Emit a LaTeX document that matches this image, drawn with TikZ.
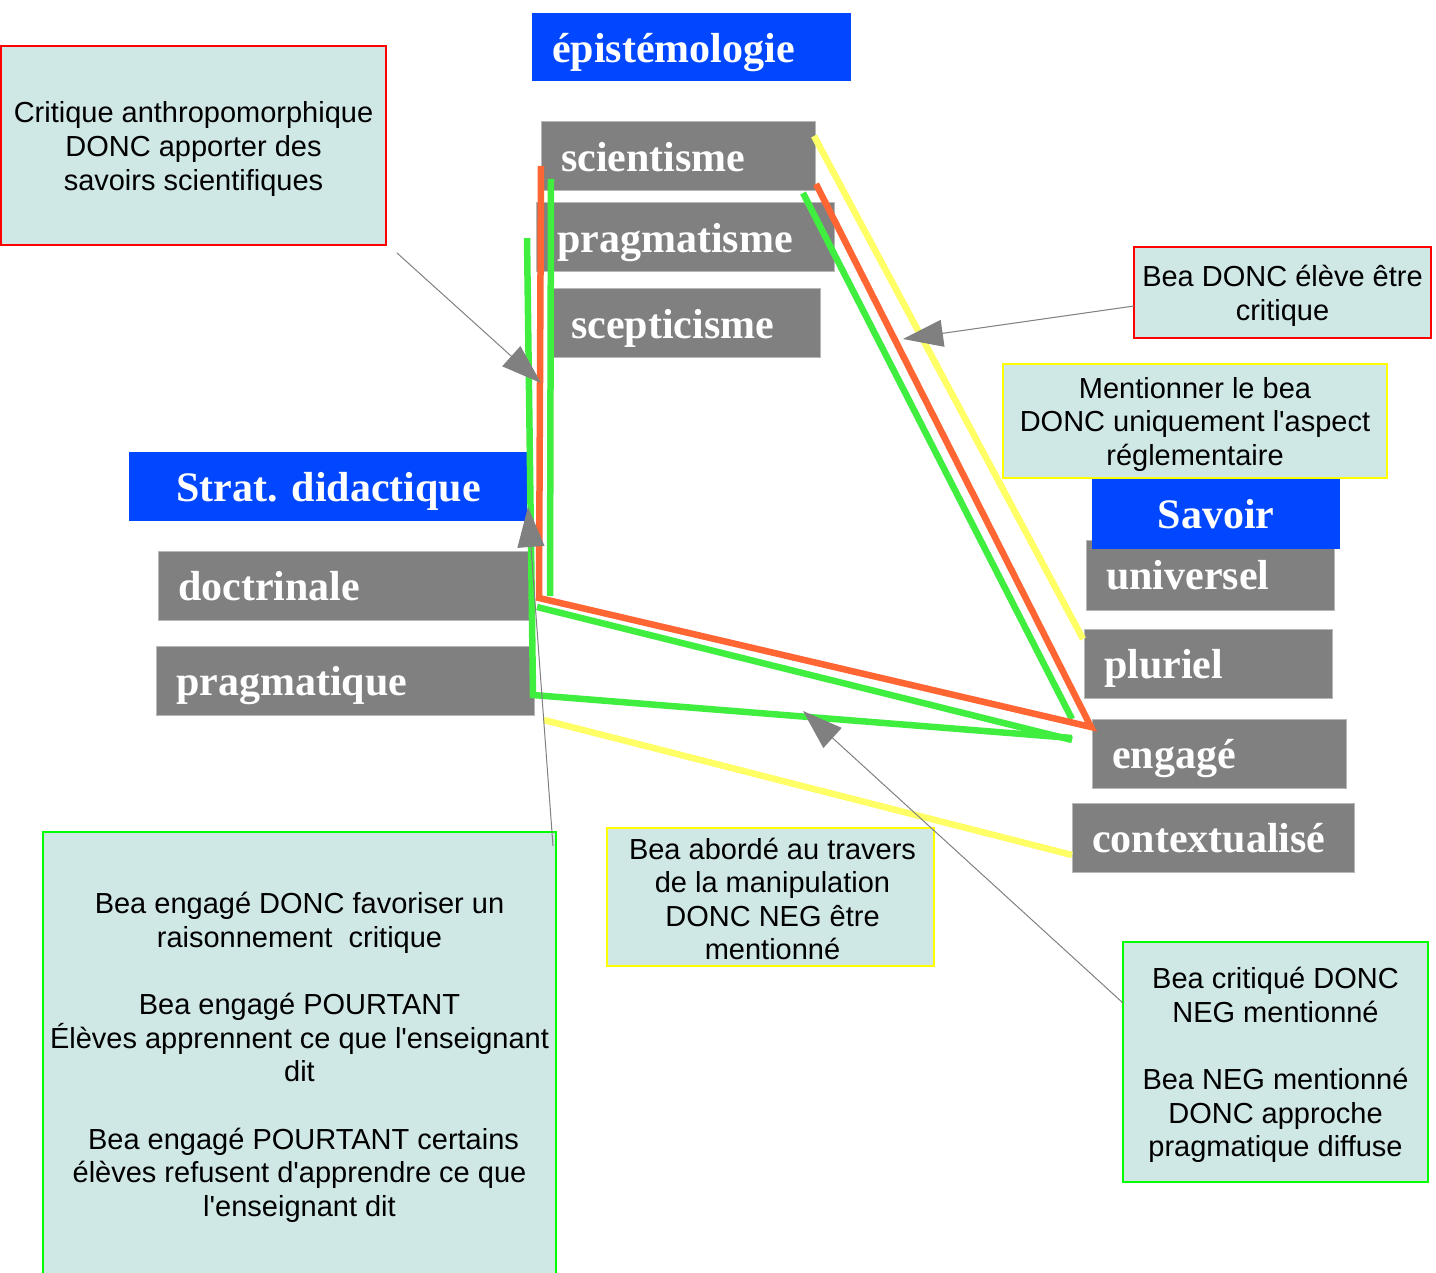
\documentclass[tikz,border=0pt]{standalone}
\usepackage{fontspec}
\setmainfont{Liberation Sans}[Ligatures=TeXOff]
\newfontfamily\lblfont{Liberation Serif}
\usetikzlibrary{arrows.meta}
\definecolor{bblue}{RGB}{0,71,255}
\definecolor{bgray}{RGB}{128,128,128}
\definecolor{bteal}{RGB}{207,231,229}
\definecolor{lorange}{RGB}{255,102,51}
\definecolor{lgreen}{RGB}{64,238,64}
\definecolor{lyellow}{RGB}{255,255,102}
\definecolor{bred}{RGB}{255,0,0}
\definecolor{byellow}{RGB}{255,255,0}
\definecolor{bgreen}{RGB}{0,255,0}
\tikzset{
  bluebox/.style={fill=bblue, draw=none, anchor=north west, inner sep=0pt, outer sep=0pt},
  graybox/.style={fill=bgray, draw=black!28, line width=1pt, anchor=north west, inner sep=0pt, outer sep=0pt},
  lbl/.style={anchor=base west, inner sep=0pt, text=white, font=\lblfont\bfseries\fontsize{42}{48}\selectfont},
  tbox/.style={fill=bteal, line width=2pt, anchor=north west, inner sep=0pt, outer sep=0pt},
  ttext/.style={inner sep=0pt, align=center, font=\fontsize{29}{33.6}\selectfont},
  cline/.style={line width=6.5pt},
  ptr/.style={draw=bgray, line width=1pt, -{Triangle[length=40pt,width=27pt]}}
}
\begin{document}
\begin{tikzpicture}[x=1pt,y=-1pt]
\useasboundingbox (0,0) rectangle (1436,1273);
% epistemologie column
\node[bluebox, minimum width=319pt, minimum height=68pt] (epi) at (532,13) {};
\node[lbl] at ([shift={(20,49.5)}]epi.north west) {épistémologie};
\node[graybox, minimum width=274pt, minimum height=69pt] (sci) at (541,122) {};
\node[lbl] at ([shift={(20,49.5)}]sci.north west) {scientisme};
\node[graybox, minimum width=298pt, minimum height=69pt] (pra) at (536,203) {};
\node[lbl] at ([shift={(21,49.5)}]pra.north west) {pragmatisme};
\node[graybox, minimum width=269pt, minimum height=69pt] (sce) at (551,289) {};
\node[lbl] at ([shift={(20,49.5)}]sce.north west) {scepticisme};
% strategie column
\node[bluebox, minimum width=398pt, minimum height=69pt] (strat) at (129,452) {};
\node[lbl] at ([shift={(47,49.5)}]strat.north west) {Strat. didactique};
\node[graybox, minimum width=371pt, minimum height=69pt] (doc) at (158,551) {};
\node[lbl] at ([shift={(20,49.5)}]doc.north west) {doctrinale};
\node[graybox, minimum width=378pt, minimum height=69pt] (prq) at (156,646) {};
\node[lbl] at ([shift={(20,49.5)}]prq.north west) {pragmatique};
% savoir column
\node[graybox, minimum width=248pt, minimum height=70pt] (uni) at (1086,540) {};
\node[lbl] at ([shift={(20,49.5)}]uni.north west) {universel};
\node[bluebox, minimum width=248pt, minimum height=70pt] (sav) at (1092,479) {};
\node[lbl, anchor=base] at ([shift={(124,49.5)}]sav.north west) {Savoir};
\node[graybox, minimum width=248pt, minimum height=69pt] (plu) at (1084,629) {};
\node[lbl] at ([shift={(20,49.5)}]plu.north west) {pluriel};
\node[graybox, minimum width=254pt, minimum height=69pt] (eng) at (1092,719) {};
\node[lbl] at ([shift={(20,49.5)}]eng.north west) {engagé};
\node[graybox, minimum width=282pt, minimum height=69pt] (ctx) at (1072,803) {};
\node[lbl] at ([shift={(20,49.5)}]ctx.north west) {contextualisé};
% comment boxes
\node[tbox, draw=bred, minimum width=385pt, minimum height=199pt] (crit) at (1,46) {};
\node[ttext] at ([shift={(0,3.5)}]crit.center)
  {Critique anthropomorphique\\DONC apporter des\\savoirs scientifiques};
\node[tbox, draw=bred, minimum width=297pt, minimum height=91pt] (bea) at (1134,247) {};
\node[ttext] at ([shift={(0,3.5)}]bea.center)
  {Bea DONC élève être\\critique};
\node[tbox, draw=byellow, minimum width=384pt, minimum height=114pt] (ment) at (1003,364) {};
\node[ttext] at ([shift={(0,3.5)}]ment.center)
  {Mentionner le bea\\DONC uniquement l'aspect\\réglementaire};
\node[tbox, draw=byellow, minimum width=327pt, minimum height=138pt] (abord) at (607,828) {};
\node[ttext] at ([shift={(2,2)}]abord.center)
  {Bea abordé au travers\\de la manipulation\\DONC NEG être\\mentionné};
\node[tbox, draw=bgreen, minimum width=513pt, minimum height=446pt] (big) at (43,832) {};
\node[ttext] at ([shift={(0,2.5)}]big.center)
  {Bea engagé DONC favoriser un\\raisonnement\ \ critique\\[33.6pt]Bea engagé POURTANT\\Élèves apprennent ce que l'enseignant\\dit\\[33.6pt]\ Bea engagé POURTANT certains\\élèves refusent d'apprendre ce que\\l'enseignant dit};
\node[tbox, draw=bgreen, minimum width=305pt, minimum height=240pt] (crq) at (1123,942) {};
\node[ttext] at ([shift={(0,3)}]crq.center)
  {Bea critiqué DONC\\NEG mentionné\\[33.6pt]Bea NEG mentionné\\DONC approche\\pragmatique diffuse};
% coordinates of the colored paths
\coordinate (o1) at (541,166);
\coordinate (o2) at (539,598);
\coordinate (o3) at (1091,727);
\coordinate (o4) at (816,184);
\coordinate (g1a) at (551,179);
\coordinate (g1b) at (550,596);
\coordinate (g2a) at (527,238);
\coordinate (g2b) at (533,695);
\coordinate (g2c) at (1072,738);
\coordinate (g3a) at (537,607);
\coordinate (g3b) at (1072,740);
\coordinate (g4a) at (803,193);
\coordinate (g4b) at (1072,719);
\coordinate (y1a) at (814,136);
\coordinate (y1b) at (1083,639);
\coordinate (y2a) at (544,720);
\coordinate (y2b) at (1072,855);
% colored paths
\draw[cline, lyellow] (y1a) -- (y1b);
\draw[cline, lyellow] (y2a) -- (y2b);
\draw[cline, lgreen] (g1a) -- (g1b);
\draw[cline, lgreen] (g2a) -- (g2b) -- (g2c);
\draw[cline, lgreen] (g3a) -- (g3b);
\draw[cline, lgreen] (g4a) -- (g4b);
\draw[cline, lorange] (o1) -- (o2) -- (o3) -- (o4);
% pointers
\coordinate (p1s) at (397,253);
\coordinate (p1e) at (541,383);
\coordinate (p2s) at (1134,306);
\coordinate (p2e) at (903,339);
\coordinate (p3s) at (553,846);
\coordinate (p3e) at (528,507);
\coordinate (p4s) at (1123,1003);
\coordinate (p4e) at (803,711);
\draw[ptr] (p1s) -- (p1e);
\draw[ptr] (p2s) -- (p2e);
\draw[ptr] (p3s) -- (p3e);
\draw[ptr] (p4s) -- (p4e);
\end{tikzpicture}
\end{document}
